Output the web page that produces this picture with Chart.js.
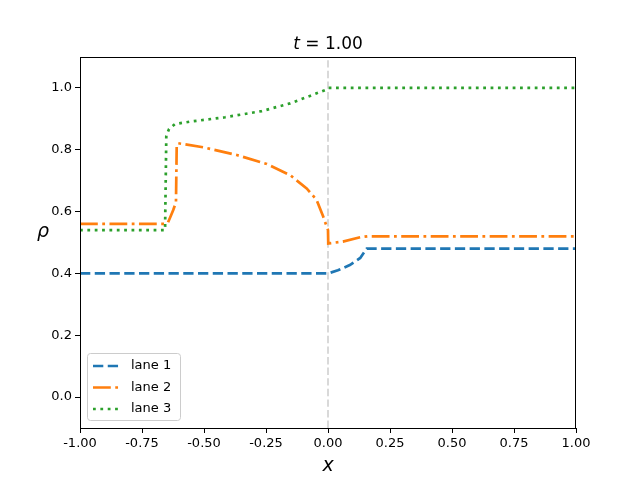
<!DOCTYPE html>
<html>
<head>
<meta charset="utf-8">
<script src="https://cdn.jsdelivr.net/npm/chart.js@4/dist/chart.umd.min.js"></script>
<style>
  html, body { margin: 0; padding: 0; background: #fff; }
  #wrap { width: 640px; height: 480px; }
</style>
</head>
<body>
<div id="wrap"><canvas id="chart" width="640" height="480"></canvas></div>
<script>
const titleText = '= 1.00';
const xTicks = [-1, -0.75, -0.5, -0.25, 0, 0.25, 0.5, 0.75, 1];
const yTicks = [0, 0.2, 0.4, 0.6, 0.8, 1.0];

const lane1X = [-1, -0.5, 0, 0.04, 0.088, 0.13, 0.156, 0.5, 1];
const lane1Y = [0.4, 0.4, 0.4, 0.41, 0.427, 0.45, 0.48, 0.48, 0.48];

const lane2X = [-1, -0.66, -0.645, -0.637, -0.624, -0.613, -0.61, -0.604, -0.503, -0.368, -0.247, -0.153, -0.086, -0.046, -0.019, -0.005, 0, 0.001, 0.06, 0.13, 0.16, 0.5, 1];
const lane2Y = [0.56, 0.56, 0.565, 0.58, 0.605, 0.63, 0.815, 0.821, 0.808, 0.783, 0.754, 0.718, 0.675, 0.638, 0.583, 0.551, 0.54, 0.497, 0.503, 0.517, 0.52, 0.52, 0.52];

const lane3X = [-1, -0.657, -0.652, -0.641, -0.617, -0.556, -0.415, -0.267, -0.153, -0.073, -0.012, 0, 0.5, 1];
const lane3Y = [0.54, 0.54, 0.845, 0.867, 0.883, 0.891, 0.905, 0.925, 0.95, 0.974, 0.993, 1.0, 1.0, 1.0];

const markerX = [0, 0];
const markerY = [-0.1, 1.1];

function toPoints(xs, ys) {
  return xs.map((x, i) => ({ x, y: ys[i] }));
}

const frameAndText = {
  id: 'frameAndText',
  afterDraw(chart) {
    const ctx = chart.ctx;
    const a = chart.chartArea;
    ctx.save();
    ctx.strokeStyle = '#000';
    ctx.lineWidth = 1;
    ctx.strokeRect(a.left + 0.5, a.top + 0.5, a.right - a.left - 1, a.bottom - a.top);

    // title
    ctx.fillStyle = '#000';
    ctx.textBaseline = 'alphabetic';
    const italic = 'italic 17px "DejaVu Sans"';
    const normal = '17px "DejaVu Sans"';
    ctx.font = italic;
    const tw = ctx.measureText('t ').width;
    ctx.font = normal;
    const rw = ctx.measureText(titleText).width;
    let sx = (a.left + a.right) / 2 - (tw + rw) / 2;
    ctx.font = italic;
    ctx.fillText('t ', sx, 49);
    ctx.font = normal;
    ctx.fillText(titleText, sx + tw, 49);

    // axis labels
    ctx.font = 'italic 19px "DejaVu Sans"';
    ctx.textAlign = 'center';
    ctx.fillText('x', (a.left + a.right) / 2, 471);
    ctx.fillText('ρ', 43, 237);

    // legend
    const lx = 87, ly = 353, lw = 93, lh = 67;
    ctx.beginPath();
    ctx.roundRect(lx + 0.5, ly + 0.5, lw, lh, 3);
    ctx.fillStyle = 'rgba(255,255,255,0.8)';
    ctx.fill();
    ctx.strokeStyle = '#cccccc';
    ctx.lineWidth = 1;
    ctx.stroke();
    ctx.font = '13px "DejaVu Sans"';
    ctx.textAlign = 'left';
    ctx.textBaseline = 'middle';
    chart.data.datasets.forEach((ds, i) => {
      if (!ds.label) return;
      const y = ly + 13 + i * 21.5;
      ctx.beginPath();
      ctx.setLineDash(ds.borderDash);
      ctx.strokeStyle = ds.borderColor;
      ctx.lineWidth = ds.borderWidth;
      ctx.moveTo(93, y);
      ctx.lineTo(121, y);
      ctx.stroke();
      ctx.setLineDash([]);
      ctx.fillStyle = '#000';
      ctx.fillText(ds.label, 131, y);
    });
    ctx.restore();
  }
};

const ctx = document.getElementById('chart').getContext('2d');
new Chart(ctx, {
  type: 'scatter',
  data: {
    datasets: [
      {
        label: 'lane 1',
        data: toPoints(lane1X, lane1Y),
        showLine: true,
        borderColor: '#1f77b4',
        borderWidth: 2.7,
        borderDash: [10.3, 4.45],
        pointRadius: 0,
        tension: 0
      },
      {
        label: 'lane 2',
        data: toPoints(lane2X, lane2Y),
        showLine: true,
        borderColor: '#ff7f0e',
        borderWidth: 2.7,
        borderDash: [17.8, 4.45, 2.78, 4.45],
        pointRadius: 0,
        tension: 0
      },
      {
        label: 'lane 3',
        data: toPoints(lane3X, lane3Y),
        showLine: true,
        borderColor: '#2ca02c',
        borderWidth: 2.7,
        borderDash: [2.78, 4.58],
        pointRadius: 0,
        tension: 0
      },
      {
        label: '',
        data: toPoints(markerX, markerY),
        showLine: true,
        borderColor: 'rgba(128,128,128,0.3)',
        borderWidth: 2,
        borderDash: [7.4, 3.2],
        pointRadius: 0,
        order: 10
      }
    ]
  },
  options: {
    responsive: false,
    animation: false,
    layout: { padding: { left: 0, top: 57, right: 64, bottom: 0 } },
    plugins: {
      legend: { display: false },
      tooltip: { enabled: false },
      title: { display: false }
    },
    scales: {
      x: {
        type: 'linear',
        min: -1,
        max: 1,
        afterBuildTicks: axis => { axis.ticks = xTicks.map(v => ({ value: v })); },
        afterFit: axis => { axis.height = 52; },
        ticks: {
          color: '#000',
          font: { family: 'DejaVu Sans', size: 13 },
          padding: 3,
          maxRotation: 0,
          callback: v => v.toFixed(2)
        },
        grid: { drawOnChartArea: false, drawTicks: true, tickLength: 5, color: '#000' },
        border: { display: true, color: '#000' }
      },
      y: {
        type: 'linear',
        min: -0.1,
        max: 1.1,
        afterBuildTicks: axis => { axis.ticks = yTicks.map(v => ({ value: v })); },
        afterFit: axis => { axis.width = 80; },
        ticks: {
          color: '#000',
          font: { family: 'DejaVu Sans', size: 13 },
          padding: 3,
          callback: v => v.toFixed(1)
        },
        grid: { drawOnChartArea: false, drawTicks: true, tickLength: 5, color: '#000' },
        border: { display: true, color: '#000' }
      }
    }
  },
  plugins: [frameAndText]
});
</script>
</body>
</html>
